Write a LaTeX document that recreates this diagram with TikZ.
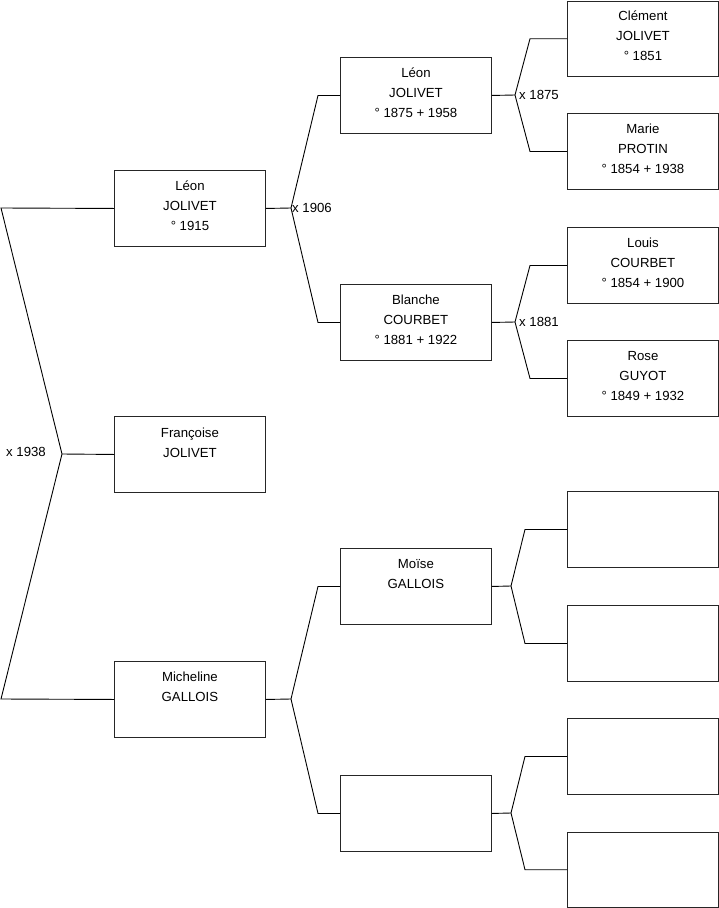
\documentclass[tikz,border=0pt]{standalone}
\usepackage{fontspec}
\setmainfont{Liberation Sans}
\usetikzlibrary{calc}
\begin{document}
\begin{tikzpicture}[x=1pt,y=-1pt,
  box/.style={draw=black!85,line width=0.9pt,minimum width=151pt,minimum height=76pt,inner sep=0pt,anchor=north west},
  txt/.style={anchor=base,align=center,inner sep=0pt,font=\fontsize{13.2}{20}\selectfont},
  lab/.style={anchor=west,inner sep=1pt,font=\fontsize{13.2}{14}\selectfont},
  conn/.style={line width=0.9pt}]
\useasboundingbox (0,0) rectangle (719,908);
% column 1
\node[box] (A1) at (114,170) {};
\node[box] (A2) at (114,416) {};
\node[box] (A3) at (114,661) {};
% column 2
\node[box] (B1) at (340,57) {};
\node[box] (B2) at (340,284) {};
\node[box] (B3) at (340,548) {};
\node[box] (B4) at (340,775) {};
% column 3
\node[box,minimum height=75.5pt] (C1) at (567,0.5) {};
\node[box] (C2) at (567,113) {};
\node[box] (C3) at (567,227) {};
\node[box] (C4) at (567,340) {};
\node[box] (C5) at (567,491) {};
\node[box] (C6) at (567,605) {};
\node[box] (C7) at (567,718) {};
\node[box,minimum height=74.5pt] (C8) at (567,832) {};
% texts (base anchor = last line)
\node[txt] at ($(A1.north)+(0,60)$) {Léon\\JOLIVET\\° 1915};
\node[txt] at ($(A2.north)+(0,41)$) {Françoise\\JOLIVET};
\node[txt] at ($(A3.north)+(0,40)$) {Micheline\\GALLOIS};
\node[txt] at ($(B1.north)+(0,60)$) {Léon\\JOLIVET\\° 1875 + 1958};
\node[txt] at ($(B2.north)+(0,60)$) {Blanche\\COURBET\\° 1881 + 1922};
\node[txt] at ($(B3.north)+(0,40)$) {Moïse\\GALLOIS};
\node[txt] at ($(C1.north)+(0,59.5)$) {Clément\\JOLIVET\\° 1851};
\node[txt] at ($(C2.north)+(0,60)$) {Marie\\PROTIN\\° 1854 + 1938};
\node[txt] at ($(C3.north)+(0,60)$) {Louis\\COURBET\\° 1854 + 1900};
\node[txt] at ($(C4.north)+(0,60)$) {Rose\\GUYOT\\° 1849 + 1932};
% left junction
\coordinate (p1) at (1,208);
\coordinate (p2) at (1,699);
\coordinate (j0) at (62,454);
\draw[conn] (A1.west) -- (p1) -- (j0) -- (p2) -- (A3.west);
\draw[conn] (j0) -- (A2.west);
\node[anchor=east,inner sep=0pt,font=\fontsize{13.2}{14}\selectfont] at ($(j0)+(-16,-2)$) {x 1938};
% column 1 -> 2
\coordinate (j1) at (291,208);
\draw[conn] (A1.east) -- (j1);
\draw[conn] (B1.west) -- ++(-22,0) -- (j1) -- ($(B2.west)+(-22,0)$) -- (B2.west);
\node[lab] at (j1) {x 1906};
\coordinate (j2) at (291,699);
\draw[conn] (A3.east) -- (j2);
\draw[conn] (B3.west) -- ++(-22,0) -- (j2) -- ($(B4.west)+(-22,0)$) -- (B4.west);
% column 2 -> 3
\coordinate (j3) at (515,95);
\draw[conn] (B1.east) -- (j3);
\draw[conn] (C1.west) -- ++(-37,0) -- (j3) -- ($(C2.west)+(-37,0)$) -- (C2.west);
\node[lab,xshift=3pt] at (j3) {x 1875};
\coordinate (j4) at (515,322);
\draw[conn] (B2.east) -- (j4);
\draw[conn] (C3.west) -- ++(-37,0) -- (j4) -- ($(C4.west)+(-37,0)$) -- (C4.west);
\node[lab,xshift=3pt] at (j4) {x 1881};
\coordinate (j5) at (511,586);
\draw[conn] (B3.east) -- (j5);
\draw[conn] (C5.west) -- ++(-42,0) -- (j5) -- ($(C6.west)+(-42,0)$) -- (C6.west);
\coordinate (j6) at (511,813);
\draw[conn] (B4.east) -- (j6);
\draw[conn] (C7.west) -- ++(-42,0) -- (j6) -- ($(C8.west)+(-42,0)$) -- (C8.west);
\end{tikzpicture}
\end{document}
